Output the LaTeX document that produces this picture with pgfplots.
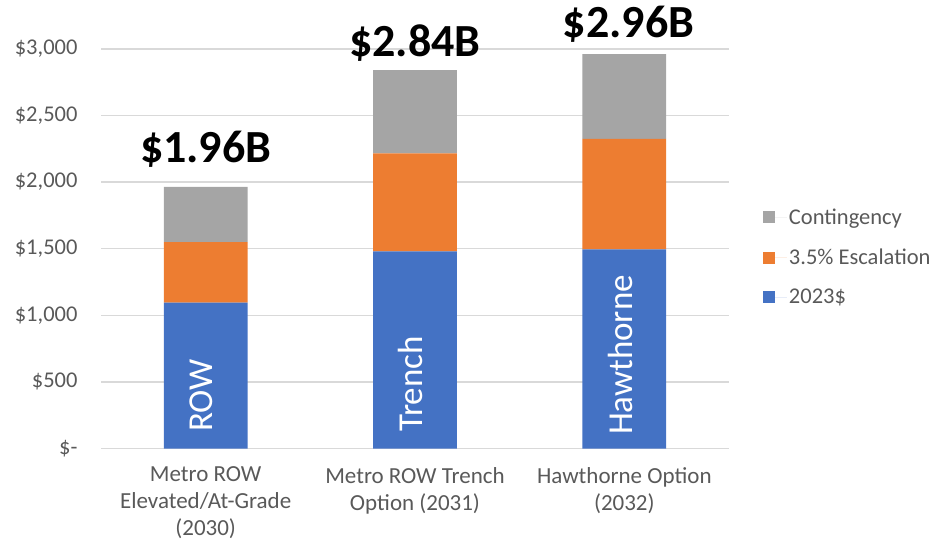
\documentclass[border=0pt]{standalone}
\usepackage{pgfplots}
\pgfplotsset{compat=1.18}
\usepackage{fontspec}
\setmainfont{Carlito}
\definecolor{cblue}{HTML}{4472C4}
\definecolor{corange}{HTML}{ED7D31}
\definecolor{cgray}{HTML}{A5A5A5}
\definecolor{ctext}{HTML}{595959}
\definecolor{cgrid}{HTML}{D9D9D9}
\begin{document}
\begin{tikzpicture}[x=1pt,y=1pt,
  barlab/.style={anchor=base, inner sep=0pt, font=\bfseries\fontsize{46}{46}\selectfont},
  inlab/.style={rotate=90, anchor=west, inner sep=0pt, text=white, font=\fontsize{35}{35}\selectfont}]
\useasboundingbox (0,0) rectangle (934,547);
\pgfplotsset{frame/.style={at={(101pt,98.5pt)}, anchor=south west,
  scale only axis, width=628pt, height=399.6pt, clip=false,
  xmin=-0.5, xmax=2.5, ymin=0, ymax=3000}}
\begin{axis}[
  frame,
  ybar stacked, bar width=0.4,
  xtick={0,1,2},
  xticklabels={{Metro ROW\\Elevated/At-Grade\\(2030)},{Metro ROW Trench\\Option (2031)},{Hawthorne Option\\(2032)}},
  ytick={0,500,1000,1500,2000,2500,3000},
  yticklabels={{\$-\hspace{9pt}},{\$500},{\$1,000},{\$1,500},{\$2,000},{\$2,500},{\$3,000}},
  axis line style={draw=none},
  major tick length=0pt,
  ymajorgrids, grid style={cgrid, line width=1.5pt},
  tick label style={text=ctext},
  yticklabel style={font=\fontsize{22.5}{27}\selectfont, xshift=-20pt},
  xticklabel style={font=\fontsize{23}{27}\selectfont, align=center, yshift=-15pt},
  reverse legend,
  legend cell align=left,
  legend style={at={(1.049,0.479)}, anchor=west, draw=none, fill=none,
    font=\fontsize{22.5}{25}\selectfont, text=ctext, row sep=19pt},
  legend image code/.code={\fill[#1] (0pt,-6pt) rectangle (12pt,6pt); \path (0pt,0pt) -- (24pt,0pt);},
]
\addplot[fill=cblue, draw=none] coordinates {(0,1095) (1,1480) (2,1495)};
\addlegendentry{2023\$}
\addplot[fill=corange, draw=none] coordinates {(0,455) (1,735) (2,830)};
\addlegendentry{3.5\% Escalation}
\addplot[fill=cgray, draw=none] coordinates {(0,415) (1,625) (2,635)};
\addlegendentry{Contingency}
\end{axis}
\begin{axis}[frame, hide axis]
\node[barlab, yshift=24pt] at (axis cs:0,1965) {\$1.96B};
\node[barlab, yshift=14pt] at (axis cs:1,2840) {\$2.84B};
\node[barlab, yshift=17pt] at (axis cs:2.02,2960) {\$2.96B};
\node[inlab] at (axis cs:-0.02,124) {ROW};
\node[inlab] at (axis cs:0.98,124) {Trench};
\node[inlab] at (axis cs:1.98,100) {Hawthorne};
\end{axis}
\end{tikzpicture}
\end{document}
